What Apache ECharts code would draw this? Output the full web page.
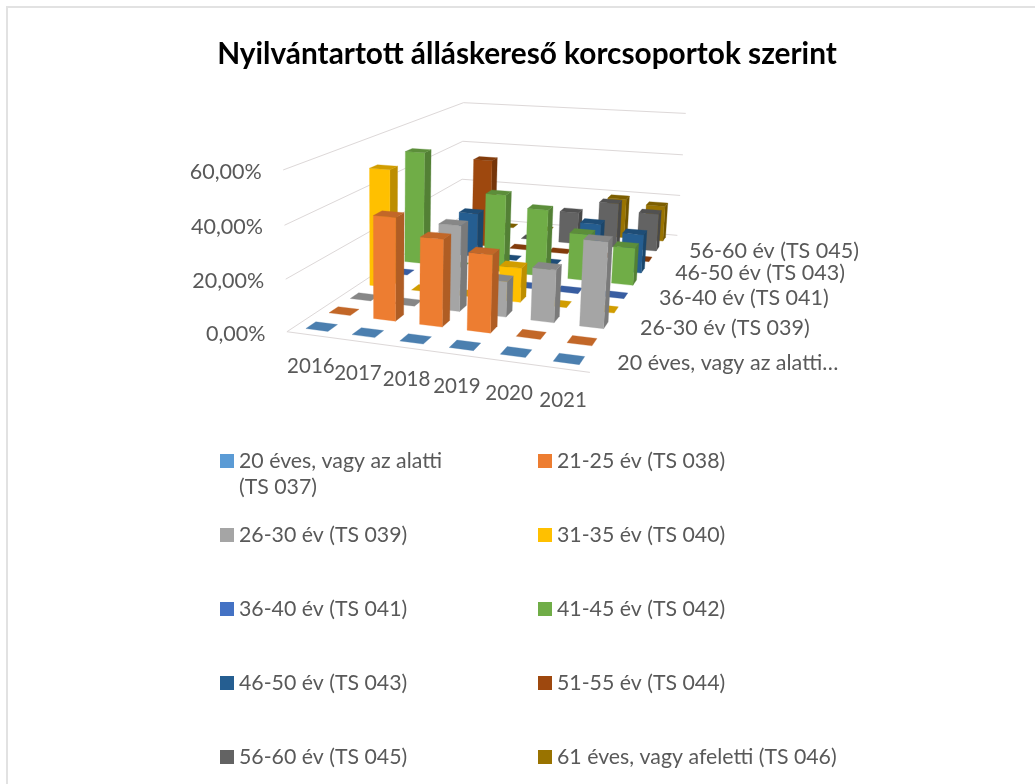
<!DOCTYPE html>
<html><head><meta charset="utf-8">
<style>html,body{margin:0;padding:0;background:#fff}#c{width:1035px;height:784px}</style>
<script src="https://cdn.jsdelivr.net/npm/echarts@6/dist/echarts.min.js"></script>
</head><body><div id="c"></div>
<script>
const years = ['2016','2017','2018','2019','2020','2021'];
const names = ['20 éves, vagy az alatti (TS 037)','21-25 év (TS 038)','26-30 év (TS 039)','31-35 év (TS 040)','36-40 év (TS 041)','41-45 év (TS 042)','46-50 év (TS 043)','51-55 év (TS 044)','56-60 év (TS 045)','61 éves, vagy afeletti (TS 046)'];
const depthLabels = ['20 éves, vagy az alatti…','','26-30 év (TS 039)','','36-40 év (TS 041)','','46-50 év (TS 043)','','56-60 év (TS 045)',''];
const yTicks = [0,0.2,0.4,0.6];
const yTickLabels = ['0,00%','20,00%','40,00%','60,00%'];
const colors = ['#5B9BD5','#ED7D31','#A5A5A5','#FFC000','#4472C4','#70AD47','#255E91','#9E480E','#636363','#997300'];
const s037 = [0,0,0,0,0,0];
const s038 = [0,0.40,0.335,0.295,0,0];
const s039 = [0,0,0.34,0.14,0.205,0.33];
const s040 = [0.495,0,0,0.14,0,0];
const s041 = [0,0,0,0,0,0];
const s042 = [0.50,0,0.34,0.29,0.20,0.16];
const s043 = [0,0.20,0,0,0.20,0.17];
const s044 = [0,0.41,0,0,0,0];
const s045 = [0,0,0,0.15,0.21,0.175];
const s046 = [0,0,0,0,0.19,0.17];
const seriesValues = [s037,s038,s039,s040,s041,s042,s043,s044,s045,s046];

// perspective camera: fitted from the plot box's corners (u along years, v along depth, w up)
const camPts = [[0,0,0,288,332],[1,0,0,590,372],[1,1,0,678,236],[0,1,0,460,216],[0,0,1,282,170],[0,1,1,465,103],[1,1,1,685,113]];
function fit(){
  const A=[],b=[];
  camPts.forEach(([u,v,w,x,y])=>{
    A.push([u,v,w,1,0,0,0,0,-x*u,-x*v,-x*w]);b.push(x);
    A.push([0,0,0,0,u,v,w,1,-y*u,-y*v,-y*w]);b.push(y);
  });
  const n=11,M=[];
  for(let i=0;i<n;i++){const r=[];for(let j=0;j<n;j++){let s=0;A.forEach(a=>s+=a[i]*a[j]);r.push(s);}let t=0;A.forEach((a,k)=>t+=a[i]*b[k]);r.push(t);M.push(r);}
  for(let i=0;i<n;i++){let p=i;for(let k=i+1;k<n;k++)if(Math.abs(M[k][i])>Math.abs(M[p][i]))p=k;[M[i],M[p]]=[M[p],M[i]];
    for(let k=0;k<n;k++)if(k!==i){const f=M[k][i]/M[i][i];for(let j=i;j<=n;j++)M[k][j]-=f*M[i][j];}}
  return M.map((r,i)=>r[n]/r[i]);
}
const P=fit();
function pr(u,v,w){const d=P[8]*u+P[9]*v+P[10]*w+1;return [(P[0]*u+P[1]*v+P[2]*w+P[3])/d,(P[4]*u+P[5]*v+P[6]*w+P[7])/d];}
const barFill=0.48, depthFill=0.42;
const shade=(hex,k)=>{const n=parseInt(hex.slice(1),16);return 'rgb('+[(n>>16)&255,(n>>8)&255,n&255].map(c=>Math.round(c*k)).join(',')+')';};
const poly=(pts,fill)=>({type:'polygon',shape:{points:pts},style:{fill:fill,stroke:fill,lineWidth:0.3}});

const barSeries = names.map((name,si)=>({
  type:'custom',name:name,coordinateSystem:'cartesian2d',z:20-si,
  itemStyle:{color:colors[si]},encode:{x:0,y:1},silent:true,
  data:seriesValues[si].map((v,i)=>[i,v]),
  renderItem(params,api){
    const c=api.coord([api.value(0),api.value(1)]),cs=params.coordSys;
    const band=api.size([1,0])[0]/cs.width;
    const uc=(c[0]-cs.x)/cs.width, w=(cs.y+cs.height-c[1])/cs.height;
    const u0=uc-band*barFill/2,u1=uc+band*barFill/2;
    const dv=1/names.length,v0=(si+0.5)*dv-dv*depthFill/2,v1=(si+0.5)*dv+dv*depthFill/2;
    const col=colors[si],ch=[];
    if(w>0.001){
      ch.push(poly([pr(u1,v0,0),pr(u1,v1,0),pr(u1,v1,w),pr(u1,v0,w)],shade(col,0.74)));
      ch.push(poly([pr(u0,v0,0),pr(u1,v0,0),pr(u1,v0,w),pr(u0,v0,w)],col));
    }
    ch.push(poly([pr(u0,v0,w),pr(u1,v0,w),pr(u1,v1,w),pr(u0,v1,w)],shade(col,0.82)));
    return {type:'group',children:ch};
  }
}));

const wallSeries={
  type:'custom',coordinateSystem:'cartesian2d',z:1,silent:true,encode:{x:0,y:1},
  data:yTicks.map(t=>[0,t]),
  renderItem(params,api){
    const c=api.coord([0,api.value(1)]),cs=params.coordSys;
    const w=(cs.y+cs.height-c[1])/cs.height;
    const a=pr(0,0,w),b=pr(0,1,w),d=pr(1,1,w);
    const ch=[{type:'polyline',shape:{points:[a,b,d]},style:{stroke:'#DDD8D8',lineWidth:1,fill:null}}];
    if(w<0.001){const f=pr(1,0,0);ch.push({type:'line',shape:{x1:a[0],y1:a[1],x2:f[0],y2:f[1]},style:{stroke:'#DDD8D8',lineWidth:1}});}
    ch.push({type:'text',style:{text:yTickLabels[params.dataIndex],x:a[0]-21.5,y:a[1]+2,align:'right',verticalAlign:'middle',fill:'#595959',font:'21.5px Lato'}});
    return {type:'group',children:ch};
  }
};
const yearSeries={
  type:'custom',coordinateSystem:'cartesian2d',z:2,silent:true,encode:{x:0,y:1},
  data:years.map((y,i)=>[i,0]),
  renderItem(params,api){
    const c=api.coord([api.value(0),0]),cs=params.coordSys;
    const p=pr((c[0]-cs.x)/cs.width,0,0);
    return {type:'text',style:{text:years[params.dataIndex],x:p[0]+1,y:p[1]+32,align:'center',verticalAlign:'middle',fill:'#595959',font:'20.5px Lato'}};
  }
};
const depthSeries={
  type:'custom',coordinateSystem:'cartesian2d',z:2,silent:true,encode:{x:0,y:1},
  data:depthLabels.map((y,i)=>[5,0]),
  renderItem(params,api){
    const i=params.dataIndex;
    const p=pr(1,(i+0.5)/depthLabels.length,0);
    return {type:'text',style:{text:depthLabels[i],x:p[0]+21,y:p[1]+1,align:'left',verticalAlign:'middle',fill:'#595959',font:'21.5px Lato'}};
  }
};
const legendText={color:'#595959',fontFamily:'Lato',fontSize:21.3,lineHeight:26};
const leg=(data,left,top)=>({data,left,top,orient:'vertical',itemWidth:14,itemHeight:14,itemGap:48,icon:'rect',textStyle:legendText,
  formatter:n=>n.replace(' (TS 037)','')});

const chart=echarts.init(document.getElementById('c'),null,{renderer:'canvas'});
chart.setOption({
  animation:false,backgroundColor:'#fff',
  title:{text:'Nyilvántartott álláskereső korcsoportok szerint',left:522,textAlign:'center',top:34,
    textStyle:{color:'#000',fontFamily:'Lato',fontWeight:'bold',fontSize:29.8}},
  grid:{left:288,top:170,width:302,height:162,show:false},
  xAxis:{type:'category',data:years,show:false},
  yAxis:{type:'value',min:0,max:0.6,interval:0.2,show:false},
  legend:[leg([names[0]],215,443),leg([names[2],names[4],names[6],names[8]],215,517),leg([names[1],names[3],names[5],names[7],names[9]],533,443)],
  graphic:[
    {type:'rect',shape:{x:7,y:7,width:1040,height:800},style:{fill:null,stroke:'#E2E2E2',lineWidth:2},silent:true,z:-1},
    {type:'text',style:{text:'(TS 037)',x:239,y:487,verticalAlign:'middle',fill:'#595959',font:'21.3px Lato'},silent:true}
  ],
  series:[wallSeries,yearSeries,depthSeries,...barSeries]
});
</script></body></html>
